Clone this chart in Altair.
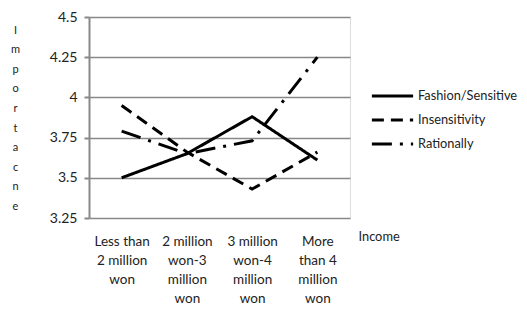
import altair as alt
import pandas as pd

categories = ["Less than|2 million|won", "2 million|won-3|million|won",
              "3 million|won-4|million|won", "More|than 4|million|won"]
series = ["Fashion/Sensitive", "Insensitivity", "Rationally"]
fashion = [3.50, 3.65, 3.88, 3.61]
insensitivity = [3.95, 3.66, 3.43, 3.66]
rationally = [3.79, 3.65, 3.73, 4.25]
y_ticks = [3.25, 3.5, 3.75, 4.0, 4.25, 4.5]

rows = []
for name, vals in zip(series, [fashion, insensitivity, rationally]):
    for i, (c, v) in enumerate(zip(categories, vals)):
        rows.append({"Income": c, "value": v, "series": name, "order": i})
df = pd.DataFrame(rows)

FONT = "Lato"

chart = alt.Chart(df).mark_line(strokeWidth=3, color="black", strokeCap="butt").encode(
    x=alt.X("Income:N", sort=categories,
            scale=alt.Scale(paddingInner=0, paddingOuter=0.5),
            axis=alt.Axis(title="Income", labelExpr="split(datum.label, '|')",
                          labelAngle=0, ticks=False, domain=False, grid=False,
                          labelFontSize=13.5, labelLineHeight=19, labelPadding=16,
                          labelColor="#222", labelFont=FONT,
                          titleFont=FONT, titleFontSize=12.8, titleFontWeight="normal",
                          titleColor="#222", titleX=269, titleY=18, titleAlign="left",
                          titleBaseline="middle")),
    y=alt.Y("value:Q", scale=alt.Scale(domain=[3.25, 4.5], nice=False, zero=False),
            axis=alt.Axis(values=y_ticks, labelExpr="toString(datum.value)",
                          title=list("Importacne"), titleAngle=0, titleX=-74, titleY=7,
                          titleBaseline="top", titleAlign="center", titleLineHeight=19.6,
                          titleFont=FONT, titleFontSize=11, titleFontWeight="normal",
                          titleColor="#222",
                          labelFont=FONT, labelFontSize=14, labelColor="#222",
                          labelPadding=7, tickSize=5, tickColor="#888", tickWidth=2,
                          domainColor="#888", domainWidth=2,
                          grid=True, gridColor="#888", gridWidth=1.6)),
    strokeDash=alt.StrokeDash("series:N", sort=series,
                              scale=alt.Scale(domain=series,
                                              range=[[1, 0], [12, 7], [20, 8, 3, 8]]),
                              legend=alt.Legend(title=None, orient="none", legendX=281,
                                                legendY=71, symbolType="stroke",
                                                symbolSize=1700, symbolStrokeWidth=3,
                                                symbolStrokeColor="black",
                                                clipHeight=16,
                                                labelFont=FONT, labelFontSize=12.8,
                                                labelColor="#222", rowPadding=8,
                                                labelOffset=3)),
    order="order:Q",
).properties(
    width=261, height=201,
    autosize=alt.AutoSizeParams(type="none"),
    padding={"left": 81, "top": 9, "right": 169, "bottom": 88},
).configure_view(stroke=None).configure(background="white")

chart.save("out.html", embed_options={"renderer": "svg", "actions": False})
